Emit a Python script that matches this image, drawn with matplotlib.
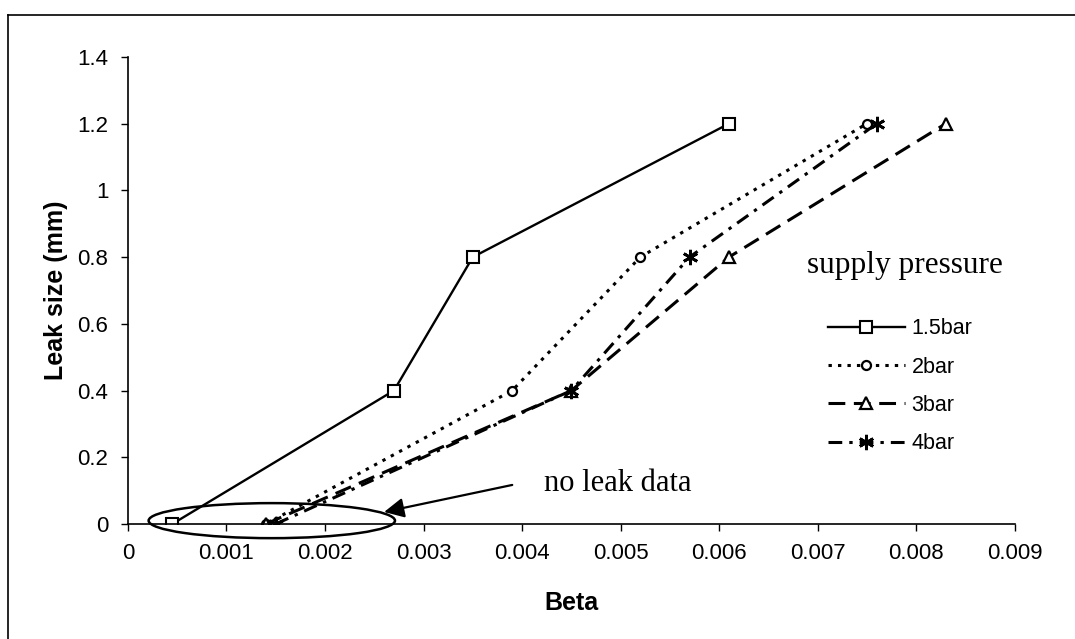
import matplotlib
matplotlib.use('Agg')
import matplotlib.pyplot as plt
from matplotlib.patches import Ellipse
from matplotlib.lines import Line2D

plt.rcParams['font.family'] = ['Liberation Sans', 'DejaVu Sans']

# data
labels = ['1.5bar', '2bar', '3bar', '4bar']
beta_15 = [0.00045, 0.0027, 0.0035, 0.0061]
leak_15 = [0.0, 0.4, 0.8, 1.2]
beta_2 = [0.0014, 0.0039, 0.0052, 0.0075]
leak_2 = [0.0, 0.4, 0.8, 1.2]
beta_3 = [0.0014, 0.0045, 0.0061, 0.0083]
leak_3 = [0.0, 0.4, 0.8, 1.2]
beta_4 = [0.0015, 0.0045, 0.0057, 0.0076]
leak_4 = [0.0, 0.4, 0.8, 1.2]

xticks = [0, 0.001, 0.002, 0.003, 0.004, 0.005, 0.006, 0.007, 0.008, 0.009]
xticklabels = ['0', '0.001', '0.002', '0.003', '0.004', '0.005', '0.006', '0.007', '0.008', '0.009']
yticks = [0, 0.2, 0.4, 0.6, 0.8, 1, 1.2, 1.4]
yticklabels = ['0', '0.2', '0.4', '0.6', '0.8', '1', '1.2', '1.4']

fig = plt.figure(figsize=(10.75, 6.39), dpi=100)
ax = fig.add_axes([0.119, 0.18, 0.825, 0.731])

ax.plot(beta_15, leak_15, color='black', lw=1.7, ls='-', marker='s', ms=8,
        mfc='white', mec='black', mew=1.5, label=labels[0])
ax.plot(beta_2, leak_2, color='black', lw=2.2, ls=(0, (1.1, 2.0)), marker='o', ms=6.5,
        mfc='white', mec='black', mew=1.6, label=labels[1])
ax.plot(beta_3, leak_3, color='black', lw=2.2, ls=(0, (5.5, 2.8)), marker='^', ms=9,
        mfc='white', mec='black', mew=1.6, label=labels[2])
ax.plot(beta_4, leak_4, color='black', lw=2.2, ls=(0, (4.5, 2.3, 1.1, 2.3)), marker=(6, 2, 0), ms=11,
        mfc='white', mec='black', mew=2.0, label=labels[3])

ax.set_xlim(0, 0.009)
ax.set_ylim(0, 1.4)
ax.set_xticks(xticks)
ax.set_xticklabels(xticklabels)
ax.set_yticks(yticks)
ax.set_yticklabels(yticklabels)
ax.tick_params(axis='both', direction='out', length=5, width=1, labelsize=16, colors='black')
ax.tick_params(axis='x', pad=9)
ax.tick_params(axis='y', pad=9)
for s in ['top', 'right']:
    ax.spines[s].set_visible(False)
for s in ['left', 'bottom']:
    ax.spines[s].set_linewidth(1.2)

ax.set_xlabel('Beta', fontsize=18, fontweight='bold', labelpad=19)
ax.set_ylabel('Leak size (mm)', fontsize=18, fontweight='bold', labelpad=7)

# "no leak data" ellipse and arrow
ell = Ellipse((0.00146, 0.01), 0.0025, 0.105, fill=False, edgecolor='black', lw=1.8, clip_on=False)
ax.add_patch(ell)
ax.annotate('', xy=(0.0026, 0.036), xytext=(0.0039, 0.117),
            arrowprops=dict(arrowstyle='-|>', mutation_scale=30, lw=1.6, color='black',
                            shrinkA=0, shrinkB=0))
ax.text(0.00422, 0.1, 'no leak data', fontsize=22, family=['Liberation Serif', 'DejaVu Serif'],
        va='baseline', ha='left')
ax.text(0.00689, 0.752, 'supply pressure', fontsize=22.5, family=['Liberation Serif', 'DejaVu Serif'],
        va='baseline', ha='left')

leg = ax.legend(loc='upper left', bbox_to_anchor=(0.789, 0.44), frameon=False, fontsize=15.5,
                handlelength=3.6, handletextpad=0.3, labelspacing=0.8, borderpad=0, borderaxespad=0)

# partial outer border (left and top edges)
fig.add_artist(Line2D([8 / 1075, 8 / 1075], [0, 1 - 15 / 639], transform=fig.transFigure, color='black', lw=1.2))
fig.add_artist(Line2D([8 / 1075, 1], [1 - 15 / 639, 1 - 15 / 639], transform=fig.transFigure, color='black', lw=1.2))

fig.savefig('out.png', dpi=100, facecolor='white')
